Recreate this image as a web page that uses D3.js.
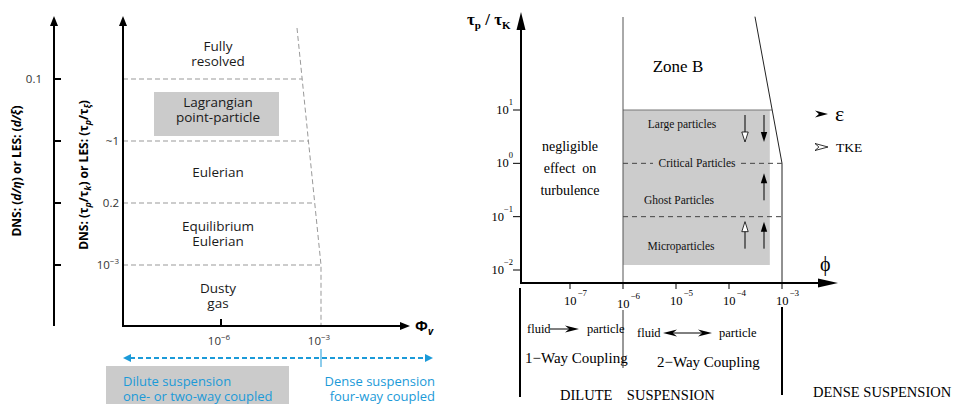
<!DOCTYPE html>
<html><head><meta charset="utf-8">
<script src="https://cdn.jsdelivr.net/npm/d3@7"></script>
<style>body{margin:0;background:#fff}</style>
</head><body>
<svg id="c" width="953" height="404"></svg>
<script>
// ================= LEFT PANEL DATA =================
const leftRegimes = [["Fully","resolved"],["Lagrangian","point-particle"],["Eulerian"],["Equilibrium","Eulerian"],["Dusty","gas"]];
const leftHighlighted = [false,true,false,false,false];
const outerTickLabels = ["0.1","","",""];
const innerTickLabels = ["","~1","0.2","10^-3"];
const leftXTicks = [-6,-3];            // log10 Φv
const leftDenseBoundary = [-3.72,-3];  // log10 Φv at top and at bottom of boundary
const suspensionLabels = [["Dilute suspension","one- or two-way coupled"],["Dense suspension","four-way coupled"]];

// ================= RIGHT PANEL DATA =================
const rightYTicks = [1,0,-1,-2];       // log10 τp/τK
const rightXTicks = [-7,-6,-5,-4,-3];  // log10 φ
const classNames = ["Large particles","Critical Particles","Ghost Particles","Microparticles"];
const classTop = [1,0,0,-1];           // log10 τp/τK at band top
const tkeEffect = ["down",null,null,"up"];
const dissipationEffect = ["down",null,"up","up"];
const zoneBPhi = [-6,-3.23];           // shaded region extent
const zoneBTau = [-1.906,1];
const denseBoundaryPhi = [-3.51,-3];   // slanted limit of dilute regime
const denseBoundaryTau = [2.75,0];
const couplingLabels = ["1\u2212Way Coupling","2\u2212Way Coupling"];
const suspensionRight = ["DILUTE    SUSPENSION","DENSE SUSPENSION"];

const svg = d3.select("#c");
const blue = "#1b9ad8";

function sup(sel, base, exp, supFs, dx, dy){
  sel.append("tspan").text(base);
  sel.append("tspan").attr("font-size",supFs).attr("dx",dx).attr("dy",dy).text(exp);
}
function tri(g, tipX, tipY, dir, len, hw, fill){
  let p;
  if(dir==="up") p=[[tipX,tipY],[tipX-hw,tipY+len],[tipX+hw,tipY+len]];
  else if(dir==="down") p=[[tipX,tipY],[tipX-hw,tipY-len],[tipX+hw,tipY-len]];
  else if(dir==="right") p=[[tipX,tipY],[tipX-len,tipY-hw],[tipX-len,tipY+hw]];
  else p=[[tipX,tipY],[tipX+len,tipY-hw],[tipX+len,tipY+hw]];
  return g.append("path").attr("d","M"+p.map(d=>d.join(",")).join("L")+"Z")
    .attr("fill",fill||"#000").attr("stroke",fill==="#fff"?"#000":"none").attr("stroke-width",0.8);
}
function stealth(g, tipX, tipY, dir, len, hw, fill){
  const s = dir==="right"?1:-1;
  const d = `M${tipX},${tipY}L${tipX-s*len},${tipY-hw}L${tipX-s*len*0.7},${tipY}L${tipX-s*len},${tipY+hw}Z`;
  return g.append("path").attr("d",d).attr("fill",fill||"#000").attr("stroke",fill==="#fff"?"#000":"none").attr("stroke-width",0.8);
}
function multiline(g, x, y, lines, lh, anchor){
  const t = g.append("text").attr("x",x).attr("y",y).attr("text-anchor",anchor||"start");
  lines.forEach((s,j)=>t.append("tspan").attr("x",x).attr("dy",j===0?0:lh).text(s));
  return t;
}

// ================= LEFT PANEL =================
{
  const g = svg.append("g").attr("font-family","'Open Sans', sans-serif");
  const xL = d3.scaleLinear().domain([-6,-3]).range([221,321]);
  const yL = d3.scaleLinear().domain([0,3]).range([79,265]);
  const ax0 = 123, ay0 = 326, outerX = 54, topY = 28;
  const bx = d3.scaleLinear().domain([topY, yL(3)]).range([xL(leftDenseBoundary[0]), xL(leftDenseBoundary[1])]);

  g.append("path").attr("d",`M${bx(topY)},${topY}L${bx(yL(3))},${yL(3)}L${xL(leftDenseBoundary[1])},${ay0}`)
    .attr("fill","none").attr("stroke","#999").attr("stroke-width",1).attr("stroke-dasharray","5,3");

  leftRegimes.forEach((r,i)=>{
    if(!leftHighlighted[i]) return;
    g.append("rect").attr("x",154).attr("y",yL(i-1)+13).attr("width",125).attr("height",yL(i)-yL(i-1)-18).attr("fill","#cbcbcb");
  });
  outerTickLabels.forEach((d,i)=>{
    g.append("line").attr("x1",ax0).attr("x2",bx(yL(i))).attr("y1",yL(i)).attr("y2",yL(i))
      .attr("stroke","#999").attr("stroke-width",1).attr("stroke-dasharray","5,3");
  });
  const bounds = [topY, ...outerTickLabels.map((d,i)=>yL(i)), ay0];
  leftRegimes.forEach((lines,i)=>{
    const c = (bounds[i]+bounds[i+1])/2;
    multiline(g,218,c-(lines.length-1)*7.5+4.5,lines,15,"middle").attr("font-size",13.5).attr("fill","#1a1a1a");
  });

  g.append("line").attr("x1",outerX).attr("x2",outerX).attr("y1",ay0).attr("y2",24).attr("stroke","#000").attr("stroke-width",2);
  tri(g,outerX,16,"up",10,4);
  g.append("line").attr("x1",ax0).attr("x2",ax0).attr("y1",ay0+1).attr("y2",24).attr("stroke","#000").attr("stroke-width",2);
  tri(g,ax0,16,"up",10,4);
  g.append("line").attr("x1",ax0-1).attr("x2",402).attr("y1",ay0).attr("y2",ay0).attr("stroke","#000").attr("stroke-width",2);
  tri(g,410,ay0,"right",10,4);

  outerTickLabels.forEach((t,i)=>{
    g.append("line").attr("x1",outerX).attr("x2",outerX+7).attr("y1",yL(i)).attr("y2",yL(i)).attr("stroke","#000").attr("stroke-width",2);
    if(t) g.append("text").attr("x",42).attr("y",yL(i)+4).attr("text-anchor","end").attr("font-size",11.5).attr("fill","#333").text(t);
  });
  innerTickLabels.forEach((t,i)=>{
    if(!t) return;
    const tx = g.append("text").attr("x",119).attr("y",yL(i)+4).attr("text-anchor","end").attr("font-size",11.5).attr("fill","#333");
    if(t.includes("^")){ const [b,e]=t.split("^"); sup(tx,b,e.replace("-","\u2212"),8,0,-5); }
    else tx.text(t);
  });
  leftXTicks.forEach(e=>{
    if(e===-6) g.append("line").attr("x1",xL(e)).attr("x2",xL(e)).attr("y1",ay0-7).attr("y2",ay0).attr("stroke","#000").attr("stroke-width",2);
    const tx = g.append("text").attr("x",xL(e)-2).attr("y",ay0+19).attr("text-anchor","middle").attr("font-size",11.5).attr("fill","#333");
    sup(tx,"10","\u2212"+Math.abs(e),8,0,-5);
  });
  const phi = g.append("text").attr("x",415).attr("y",ay0+5).attr("font-size",15).attr("font-weight","bold");
  phi.append("tspan").text("\u03A6");
  phi.append("tspan").attr("font-size",10).attr("font-style","italic").attr("dy",4).text("v");

  const t1 = g.append("text").attr("transform","translate(21,171) rotate(-90)").attr("text-anchor","middle")
    .attr("font-size",12).attr("font-weight","bold");
  t1.append("tspan").text("DNS: (");
  t1.append("tspan").attr("font-style","italic").text("d/\u03B7");
  t1.append("tspan").text(") or LES: (");
  t1.append("tspan").attr("font-style","italic").text("d/\u03BE");
  t1.append("tspan").text(")");
  const t2 = g.append("text").attr("transform","translate(88,175) rotate(-90)").attr("text-anchor","middle")
    .attr("font-size",12).attr("font-weight","bold");
  t2.append("tspan").text("DNS: (\u03C4");
  t2.append("tspan").attr("font-style","italic").attr("font-size",9).attr("dy",3).text("p");
  t2.append("tspan").attr("dy",-3).text("/\u03C4");
  t2.append("tspan").attr("font-style","italic").attr("font-size",9).attr("dy",3).text("k");
  t2.append("tspan").attr("dy",-3).text(") or LES: (\u03C4");
  t2.append("tspan").attr("font-style","italic").attr("font-size",9).attr("dy",3).text("p");
  t2.append("tspan").attr("dy",-3).text("/\u03C4");
  t2.append("tspan").attr("font-style","italic").attr("font-size",9).attr("dy",3).text("\u03BE");
  t2.append("tspan").attr("dy",-3).text(")");

  const ya = 358;
  g.append("line").attr("x1",130).attr("x2",426).attr("y1",ya).attr("y2",ya).attr("stroke",blue).attr("stroke-width",2).attr("stroke-dasharray","5,3");
  tri(g,123,ya,"left",8,4,blue);
  tri(g,433,ya,"right",8,4,blue);
  g.append("line").attr("x1",xL(-3)).attr("x2",xL(-3)).attr("y1",349).attr("y2",367).attr("stroke",blue).attr("stroke-width",1);
  g.append("rect").attr("x",106).attr("y",366).attr("width",183).attr("height",40).attr("fill","#cbcbcb");
  multiline(g,123,386,suspensionLabels[0],14.5,"start").attr("font-size",13).attr("fill",blue);
  multiline(g,435,386,suspensionLabels[1],14.5,"end").attr("font-size",13).attr("fill",blue);
}

// ================= RIGHT PANEL =================
{
  const g = svg.append("g").attr("font-family","'Liberation Serif', 'Times New Roman', serif");
  const xR = d3.scaleLinear().domain([-7,-3]).range([570,782]);
  const yR = d3.scaleLinear().domain([-2,1]).range([270,110]);
  const ox = 521, oy = 283;

  g.append("rect").attr("x",xR(zoneBPhi[0])).attr("y",yR(zoneBTau[1])).attr("width",xR(zoneBPhi[1])-xR(zoneBPhi[0]))
    .attr("height",yR(zoneBTau[0])-yR(zoneBTau[1])).attr("fill","#cccccc");
  const slant = d3.scaleLinear().domain([yR(denseBoundaryTau[0]),yR(denseBoundaryTau[1])]).range([xR(denseBoundaryPhi[0]),xR(denseBoundaryPhi[1])]);
  g.append("line").attr("x1",xR(-6)).attr("x2",slant(yR(1))).attr("y1",yR(1)).attr("y2",yR(1)).attr("stroke","#777").attr("stroke-width",1);
  g.append("line").attr("x1",xR(-6)).attr("x2",xR(-6)).attr("y1",17).attr("y2",oy).attr("stroke","#555").attr("stroke-width",1);
  g.append("path").attr("d",`M${xR(denseBoundaryPhi[0])},${yR(denseBoundaryTau[0])}L${xR(denseBoundaryPhi[1])},${yR(denseBoundaryTau[1])}L${xR(-3)},${oy}`)
    .attr("fill","none").attr("stroke","#222").attr("stroke-width",1);
  [0,-1].forEach(v=>{
    if(v===0){
      g.append("line").attr("x1",xR(-6)).attr("x2",653).attr("y1",yR(v)).attr("y2",yR(v)).attr("stroke","#444").attr("stroke-dasharray","5,4");
      g.append("line").attr("x1",741).attr("x2",xR(-3)).attr("y1",yR(v)).attr("y2",yR(v)).attr("stroke","#444").attr("stroke-dasharray","5,4");
    } else {
      g.append("line").attr("x1",xR(-6)).attr("x2",xR(-3)).attr("y1",yR(v)).attr("y2",yR(v)).attr("stroke","#444").attr("stroke-dasharray","5,4");
    }
  });
  const labelX = [682,697,679,681];
  const labelDy = [18,4,41,33];
  classNames.forEach((n,i)=>{
    g.append("text").attr("x",labelX[i]).attr("y",yR(classTop[i])+labelDy[i]).attr("text-anchor","middle").attr("font-size",11.5).attr("fill","#111").text(n);
    const top = yR(classTop[i]) + (i===2?10:5), bot = top + 27;
    [[tkeEffect[i],745,"#fff"],[dissipationEffect[i],764,"#000"]].forEach(([dir,x,fill])=>{
      if(!dir) return;
      if(dir==="down"){
        g.append("line").attr("x1",x).attr("x2",x).attr("y1",top).attr("y2",bot-9).attr("stroke","#000").attr("stroke-width",1);
        tri(g,x,bot,"down",10,3.2,fill);
      } else {
        g.append("line").attr("x1",x).attr("x2",x).attr("y1",bot).attr("y2",top+9).attr("stroke","#000").attr("stroke-width",1);
        tri(g,x,top,"up",10,3.2,fill);
      }
    });
  });

  g.append("line").attr("x1",ox).attr("x2",ox).attr("y1",oy+1).attr("y2",28).attr("stroke","#000").attr("stroke-width",2);
  tri(g,ox,12,"up",18,4.5);
  g.append("line").attr("x1",ox-1).attr("x2",820).attr("y1",oy).attr("y2",oy).attr("stroke","#000").attr("stroke-width",2);
  tri(g,838,oy,"right",20,4.5);
  rightYTicks.forEach(e=>{
    g.append("line").attr("x1",ox-8).attr("x2",ox).attr("y1",yR(e)).attr("y2",yR(e)).attr("stroke","#000").attr("stroke-width",1);
    const tx = g.append("text").attr("x",513).attr("y",yR(e)+4).attr("font-size",12.5).attr("text-anchor","end");
    const es = e<0?"\u2212"+Math.abs(e):String(e);
    sup(tx,"10",es,8.5,0,-9);
  });
  rightXTicks.forEach(e=>{
    g.append("line").attr("x1",xR(e)).attr("x2",xR(e)).attr("y1",oy).attr("y2",oy+6).attr("stroke","#000").attr("stroke-width",1);
    const dy = e===-6?3:0;
    const tx = g.append("text").attr("x",xR(e)-6).attr("y",oy+22+dy).attr("font-size",12.5);
    sup(tx,"10","\u2212"+Math.abs(e),9,1,-9);
  });
  const yt = g.append("text").attr("x",467).attr("y",25).attr("font-size",17).attr("font-weight","bold");
  yt.append("tspan").text("\u03C4");
  yt.append("tspan").attr("font-size",11).attr("dy",4).text("p");
  yt.append("tspan").attr("dy",-4).text(" / \u03C4");
  yt.append("tspan").attr("font-size",11).attr("dy",4).text("K");
  g.append("text").attr("x",820).attr("y",271).attr("font-size",20).text("\u03D5");

  g.append("text").attr("x",678).attr("y",72).attr("text-anchor","middle").attr("font-size",17).text("Zone B");
  multiline(g,570,151,["negligible","effect  on","turbulence"],22,"middle").attr("font-size",14).attr("xml:space","preserve");

  stealth(g,828,114,"right",13,3.5,"#000");
  g.append("text").attr("x",835).attr("y",121).attr("font-size",22).text("\u03B5");
  stealth(g,828,147,"right",13,3.5,"#fff");
  g.append("text").attr("x",836).attr("y",152).attr("font-size",13.5).text("TKE");

  g.append("line").attr("x1",520).attr("x2",520).attr("y1",288).attr("y2",397).attr("stroke","#000").attr("stroke-width",2);
  g.append("line").attr("x1",xR(-6)).attr("x2",xR(-6)).attr("y1",310).attr("y2",368).attr("stroke","#333").attr("stroke-width",1);
  g.append("line").attr("x1",xR(-3)).attr("x2",xR(-3)).attr("y1",307).attr("y2",395).attr("stroke","#000").attr("stroke-width",2);
  g.append("text").attr("x",527).attr("y",333).attr("font-size",12.5).text("fluid");
  g.append("line").attr("x1",550).attr("x2",572).attr("y1",329).attr("y2",329).attr("stroke","#000").attr("stroke-width",1);
  stealth(g,579,329,"right",14,3.5,"#000");
  g.append("text").attr("x",587).attr("y",333).attr("font-size",12.5).text("particle");
  g.append("text").attr("x",637).attr("y",337).attr("font-size",12.5).text("fluid");
  g.append("line").attr("x1",668).attr("x2",706).attr("y1",333).attr("y2",333).attr("stroke","#000").attr("stroke-width",1);
  stealth(g,663,333,"left",14,3.5,"#000");
  stealth(g,712,333,"right",14,3.5,"#000");
  g.append("text").attr("x",719).attr("y",337).attr("font-size",12.5).text("particle");
  g.append("text").attr("x",525).attr("y",363).attr("font-size",15).text(couplingLabels[0]);
  g.append("text").attr("x",657).attr("y",367).attr("font-size",15).text(couplingLabels[1]);
  g.append("text").attr("x",560).attr("y",400).attr("font-size",14.5).attr("xml:space","preserve").text(suspensionRight[0]);
  g.append("text").attr("x",813).attr("y",397).attr("font-size",14.5).text(suspensionRight[1]);
}
</script>
</body></html>
